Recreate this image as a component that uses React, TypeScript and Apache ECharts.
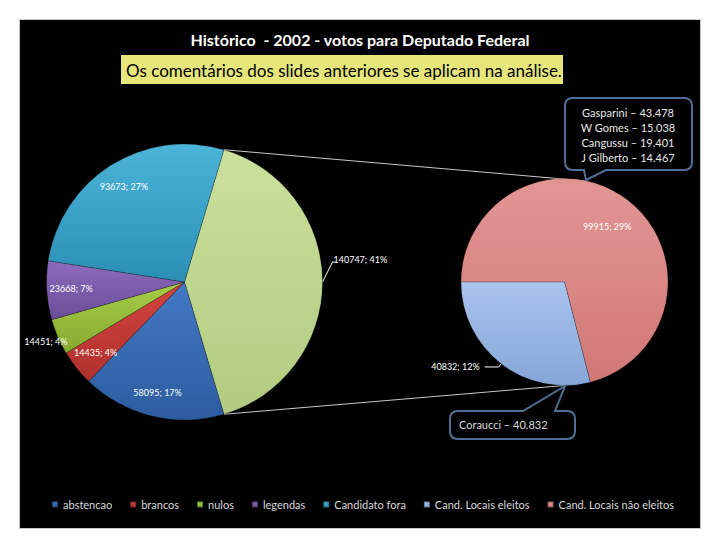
import React, { useEffect, useRef } from "react";
import * as echarts from "echarts";

const TITLE = "Histórico  - 2002 - votos para Deputado Federal";
const SUBTITLE = "Os comentários dos slides anteriores se aplicam na análise.";

const mainCategories = ["abstencao", "brancos", "nulos", "legendas", "Candidato fora"];
const mainValues = [58095, 14435, 14451, 23668, 93673];
const subCategories = ["Cand. Locais não eleitos", "Cand. Locais eleitos"];
const subValues = [99915, 40832];
const legendOrder = [
  "abstencao",
  "brancos",
  "nulos",
  "legendas",
  "Candidato fora",
  "Cand. Locais eleitos",
  "Cand. Locais não eleitos",
];
const bubbleTopLines = [
  "Gasparini – 43.478",
  "W Gomes – 15.038",
  "Cangussu – 19.401",
  "J Gilberto – 14.467",
];
const bubbleBottomText = "Coraucci – 40.832";

const FONT = "Lato, 'Open Sans', sans-serif";

const colorPairs: Record<string, [string, string]> = {
  abstencao: ["#4279c4", "#2d5c9f"],
  brancos: ["#d2443f", "#b0302d"],
  nulos: ["#a6cc48", "#86aa30"],
  legendas: ["#8c6cbc", "#6a4c98"],
  "Candidato fora": ["#4cb4d8", "#2b8fb5"],
  Outros: ["#cbe09c", "#b2cb80"],
  "Cand. Locais eleitos": ["#a9c4ee", "#86a6d8"],
  "Cand. Locais não eleitos": ["#e29694", "#d17877"],
};

const grad = (name: string) =>
  new echarts.graphic.LinearGradient(0, 0, 0, 1, [
    { offset: 0, color: colorPairs[name][0] },
    { offset: 1, color: colorPairs[name][1] },
  ]);

// layout
const C1 = [184.5, 282];
const R1 = 138;
const C2 = [564.5, 282];
const R2 = 103.5;

const bubbleTopPath =
  "M573,98 H684 Q692,98 692,106 V162 Q692,170 684,170 H606 L586,180 L584,170 H573 Q565,170 565,162 V106 Q565,98 573,98 Z";
const bubbleBottomPath =
  "M458,411 H523 L565,386 L555,411 H567 Q575,411 575,419 V431 Q575,439 567,439 H458 Q450,439 450,431 V419 Q450,411 458,411 Z";

let registered = false;
function registerShapes() {
  if (registered) return;
  registered = true;
  echarts.graphic.registerShape("bubbleTop", echarts.graphic.extendPath(bubbleTopPath, {}) as any);
  echarts.graphic.registerShape("bubbleBottom", echarts.graphic.extendPath(bubbleBottomPath, {}) as any);
}

export default function App() {
  const ref = useRef<HTMLDivElement>(null);
  useEffect(() => {
    if (!ref.current) return;
    registerShapes();
    const chart = echarts.init(ref.current, undefined, { renderer: "svg" });

    const otherValue = subValues.reduce((a, b) => a + b, 0);
    const total = mainValues.reduce((a, b) => a + b, 0) + otherValue;
    const startAngle1 = (otherValue / total) * 180;
    const fmt = (v: number) => `${v}; ${Math.round((v / total) * 100)}%`;

    const labelStyle = { color: "#ffffff", fontSize: 9, fontFamily: FONT };

    // connector lines between the two pies
    const a1 = (startAngle1 * Math.PI) / 180;
    const p1Top = [C1[0] + R1 * Math.cos(a1), C1[1] - R1 * Math.sin(a1)];
    const p1Bot = [C1[0] + R1 * Math.cos(a1), C1[1] + R1 * Math.sin(a1)];
    const aTop = (77 * Math.PI) / 180;
    const p2Top = [C2[0] + R2 * Math.cos(aTop), C2[1] - R2 * Math.sin(aTop)];
    const p2Bot = [C2[0], C2[1] + R2];

    const bigData = [
      {
        name: "Outros",
        value: otherValue,
        itemStyle: { color: grad("Outros") },
        label: { show: true, position: "outside", formatter: () => fmt(otherValue), ...labelStyle },
        labelLine: { show: true, length: 8, length2: 4, lineStyle: { color: "#ffffff", width: 1 } },
      },
      ...mainCategories.map((c, i) => ({
        name: c,
        value: mainValues[i],
        itemStyle: { color: grad(c) },
      })),
    ];

    const option: any = {
      animation: false,
      backgroundColor: "#ffffff",
      legend: {
        data: legendOrder,
        left: 46,
        top: 494,
        icon: "rect",
        itemWidth: 6,
        itemHeight: 6,
        itemGap: 17,
        textStyle: { color: "#d9d9d9", fontSize: 11, fontFamily: FONT },
        selectedMode: false,
      },
      graphic: [
        {
          type: "rect",
          z: -10,
          shape: { x: 19.5, y: 19.5, width: 681, height: 509 },
          style: { fill: "#000000", stroke: "#c8c8c8", lineWidth: 1 },
        },
        {
          type: "text",
          x: 360,
          y: 39,
          style: {
            text: TITLE,
            fill: "#ffffff",
            font: `bold 16px ${FONT}`,
            align: "center",
            verticalAlign: "middle",
          },
        },
        {
          type: "rect",
          shape: { x: 121, y: 55, width: 442, height: 29 },
          style: { fill: "#e6e67a" },
        },
        {
          type: "text",
          x: 126,
          y: 70,
          style: {
            text: SUBTITLE,
            fill: "#000000",
            font: `17px ${FONT}`,
            align: "left",
            verticalAlign: "middle",
          },
        },
        {
          type: "line",
          shape: { x1: p1Top[0], y1: p1Top[1], x2: p2Top[0], y2: p2Top[1] },
          style: { stroke: "#c8c8c8", lineWidth: 1 },
        },
        {
          type: "line",
          shape: { x1: p1Bot[0], y1: p1Bot[1], x2: p2Bot[0], y2: p2Bot[1] },
          style: { stroke: "#c8c8c8", lineWidth: 1 },
        },
        {
          type: "bubbleTop",
          x: 0,
          y: 0,
          z: 10,
          style: { fill: "#000000", stroke: "#4f6f96", lineWidth: 2 },
        },
        {
          type: "bubbleBottom",
          x: 0,
          y: 0,
          z: 10,
          style: { fill: "#000000", stroke: "#4f6f96", lineWidth: 2 },
        },
        ...bubbleTopLines.map((t, i) => ({
          type: "text",
          x: 628,
          y: 112 + i * 15,
          z: 11,
          style: {
            text: t,
            fill: "#e8e8e8",
            font: `11px ${FONT}`,
            align: "center",
            verticalAlign: "middle",
          },
        })),
        {
          type: "text",
          x: 459,
          y: 424,
          z: 11,
          style: {
            text: bubbleBottomText,
            fill: "#d8d8d8",
            font: `11px ${FONT}`,
            align: "left",
            verticalAlign: "middle",
          },
        },
      ],
      series: [
        {
          type: "pie",
          name: "main",
          center: C1,
          radius: R1,
          startAngle: startAngle1,
          clockwise: true,
          label: { show: false },
          labelLine: { show: false },
          emphasis: { disabled: true },
          itemStyle: { borderColor: "rgba(0,0,0,0.35)", borderWidth: 0.6 },
          labelLayout: (p: any) => {
            if (p.dataIndex !== 0 || !p.labelLinePoints) return {};
            const e = p.labelLinePoints[0];
            return {
              x: e[0] + 11,
              y: e[1] - 23,
              align: "left",
              verticalAlign: "middle",
              labelLinePoints: [
                [e[0], e[1]],
                [e[0] + 10, e[1] - 20],
                [e[0] + 13, e[1] - 20],
              ],
            };
          },
          data: bigData,
        },
        {
          type: "pie",
          name: "mainLabels",
          center: C1,
          radius: [83, R1],
          startAngle: startAngle1,
          clockwise: true,
          silent: true,
          emphasis: { disabled: true },
          itemStyle: { color: "rgba(0,0,0,0)" },
          labelLine: { show: false },
          data: [
            { name: "lbl-Outros", value: otherValue, label: { show: false } },
            ...mainCategories.map((c, i) => ({
              name: "lbl-" + c,
              value: mainValues[i],
              label: {
                show: c !== "nulos",
                position: "inside",
                formatter: () => fmt(mainValues[i]),
                ...labelStyle,
              },
            })),
          ],
        },
        {
          type: "pie",
          name: "mainOuterLabels",
          center: C1,
          radius: [R1, R1 + 20],
          startAngle: startAngle1,
          clockwise: true,
          silent: true,
          emphasis: { disabled: true },
          itemStyle: { color: "rgba(0,0,0,0)" },
          labelLine: { show: false },
          data: [
            { name: "lbo-Outros", value: otherValue, label: { show: false } },
            ...mainCategories.map((c, i) => ({
              name: "lbo-" + c,
              value: mainValues[i],
              label: {
                show: c === "nulos",
                position: "inside",
                formatter: () => fmt(mainValues[i]),
                ...labelStyle,
              },
            })),
          ],
        },
        {
          type: "pie",
          name: "sub",
          center: C2,
          radius: R2,
          startAngle: 180,
          clockwise: true,
          emphasis: { disabled: true },
          label: { show: false },
          labelLine: { show: false },
          itemStyle: { borderColor: "rgba(0,0,0,0.35)", borderWidth: 0.6 },
          data: subCategories.map((c, i) => ({
            name: c,
            value: subValues[i],
            itemStyle: { color: grad(c) },
            label:
              i === 1
                ? { show: true, position: "outside", formatter: () => fmt(subValues[i]), ...labelStyle }
                : { show: false },
            labelLine:
              i === 1
                ? { show: true, length: 4, length2: 14, lineStyle: { color: "#ffffff", width: 1 } }
                : { show: false },
          })),
        },
        {
          type: "pie",
          name: "subLabels",
          center: C2,
          radius: [30, R2],
          startAngle: 180,
          clockwise: true,
          silent: true,
          emphasis: { disabled: true },
          itemStyle: { color: "rgba(0,0,0,0)" },
          labelLine: { show: false },
          data: subCategories.map((c, i) => ({
            name: "lbl-" + c,
            value: subValues[i],
            label: {
              show: i === 0,
              position: "inside",
              formatter: () => fmt(subValues[i]),
              ...labelStyle,
            },
          })),
        },
      ],
    };

    chart.setOption(option);
    return () => chart.dispose();
  }, []);

  return (
    <div
      ref={ref}
      style={{ position: "absolute", left: 0, top: 0, width: 720, height: 540 }}
    />
  );
}
